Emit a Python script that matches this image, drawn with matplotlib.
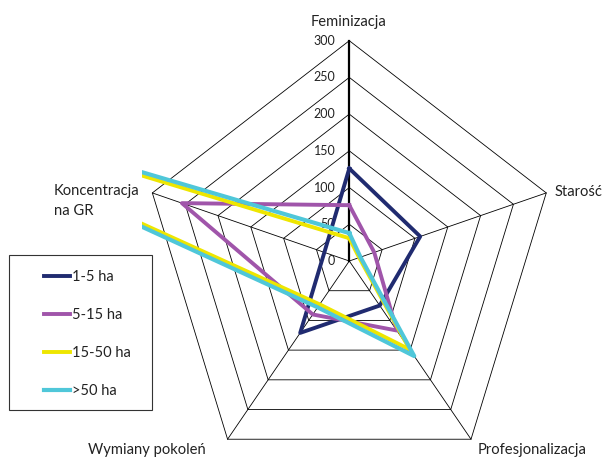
import numpy as np
import matplotlib
matplotlib.use("Agg")
import matplotlib.pyplot as plt
from matplotlib.patches import Rectangle

plt.rcParams['font.family'] = ['Lato', 'DejaVu Sans']

# data (clockwise from the top)
categories = ['Feminizacja', 'Starość', 'Profesjonalizacja', 'Wymiany pokoleń', 'Koncentracja\nna GR']
series_names = ['1-5 ha', '5-15 ha', '15-50 ha', '>50 ha']
v_1_5 = [126, 108, 75, 121, 38]
v_5_15 = [76, 38, 117, 90, 255]
v_15_50 = [31, 15, 149, 73, 800]
v_50 = [38, 17, 160, 78, 820]
ticks = [0, 50, 100, 150, 200, 250, 300]

colors = ['#202B70', '#A055AA', '#EEE600', '#4FC7D9']
widths = [2.8, 2.8, 2.8, 3.0]

W, H = 605, 457
cx, cy = 349.3, 261.0          # centre of the radar in pixels
sy = 220.3 / 300               # px per unit, vertical
sx = sy * 0.94                 # chart is a bit squashed sideways
left = 142                     # plot area left edge (lines are clipped here)

fig = plt.figure(figsize=(W / 100, H / 100), dpi=100)
ax = fig.add_axes([left / W, 0, (W - left) / W, 1])
ax.set_xlim(-(cx - left) / sx, (W - cx) / sx)
ax.set_ylim(-(H - cy) / sy, cy / sy)
ax.axis('off')

n = len(categories)
ang = 2 * np.pi * np.arange(n) / n
sin_a, cos_a = np.sin(ang), np.cos(ang)

# pentagon rings
for t in ticks[1:]:
    xs = np.append(t * sin_a, t * sin_a[0])
    ys = np.append(t * cos_a, t * cos_a[0])
    ax.plot(xs, ys, color='black', lw=0.6, zorder=1)

# spokes
for i in range(n):
    lw = 1.6 if i == 0 else 0.6
    ax.plot([0, ticks[-1] * sin_a[i]], [0, ticks[-1] * cos_a[i]], color='black', lw=lw, zorder=1)

# value labels on the top axis
for t in ticks:
    ax.text(-14 / sx, t, str(t), ha='right', va='center', fontsize=9, color='#222222')

handles = []
for vals, c, lw, name in zip([v_1_5, v_5_15, v_15_50, v_50], colors, widths, series_names):
    r = np.array(vals + vals[:1], dtype=float)
    a = np.append(ang, ang[0])
    ln, = ax.plot(r * np.sin(a), r * np.cos(a), color=c, lw=lw, zorder=3, label=name)
    handles.append(ln)

# category labels
fs = 10.6
fig.text(349 / W, 1 - 21.7 / H, categories[0], ha='center', va='center', fontsize=fs, color='#222222')
fig.text(555 / W, 1 - 192 / H, categories[1], ha='left', va='center', fontsize=fs, color='#222222')
fig.text(477.7 / W, 1 - 450 / H, categories[2], ha='left', va='center', fontsize=fs, color='#222222')
fig.text(147 / W, 1 - 450 / H, categories[3], ha='center', va='center', fontsize=fs, color='#222222')
fig.text(54 / W, 1 - 201.2 / H, categories[4], ha='left', va='center', fontsize=fs,
         color='#222222', linespacing=1.5)

# legend with a separate box
leg = ax.legend(handles=handles, loc='upper left', bbox_to_anchor=(36.7 / W, 1 - 263 / H),
                bbox_transform=fig.transFigure, frameon=False, fontsize=10.5,
                handlelength=1.75, handletextpad=0.2, labelspacing=1.65, borderpad=0)
for txt in leg.get_texts():
    txt.set_color('#222222')
box = Rectangle((9.3 / W, 1 - 410 / H), (151.7 - 9.3) / W, (410 - 255) / H,
                transform=fig.transFigure, fill=False, lw=0.8, edgecolor='#333333')
fig.add_artist(box)

fig.savefig('out.png', dpi=100)
